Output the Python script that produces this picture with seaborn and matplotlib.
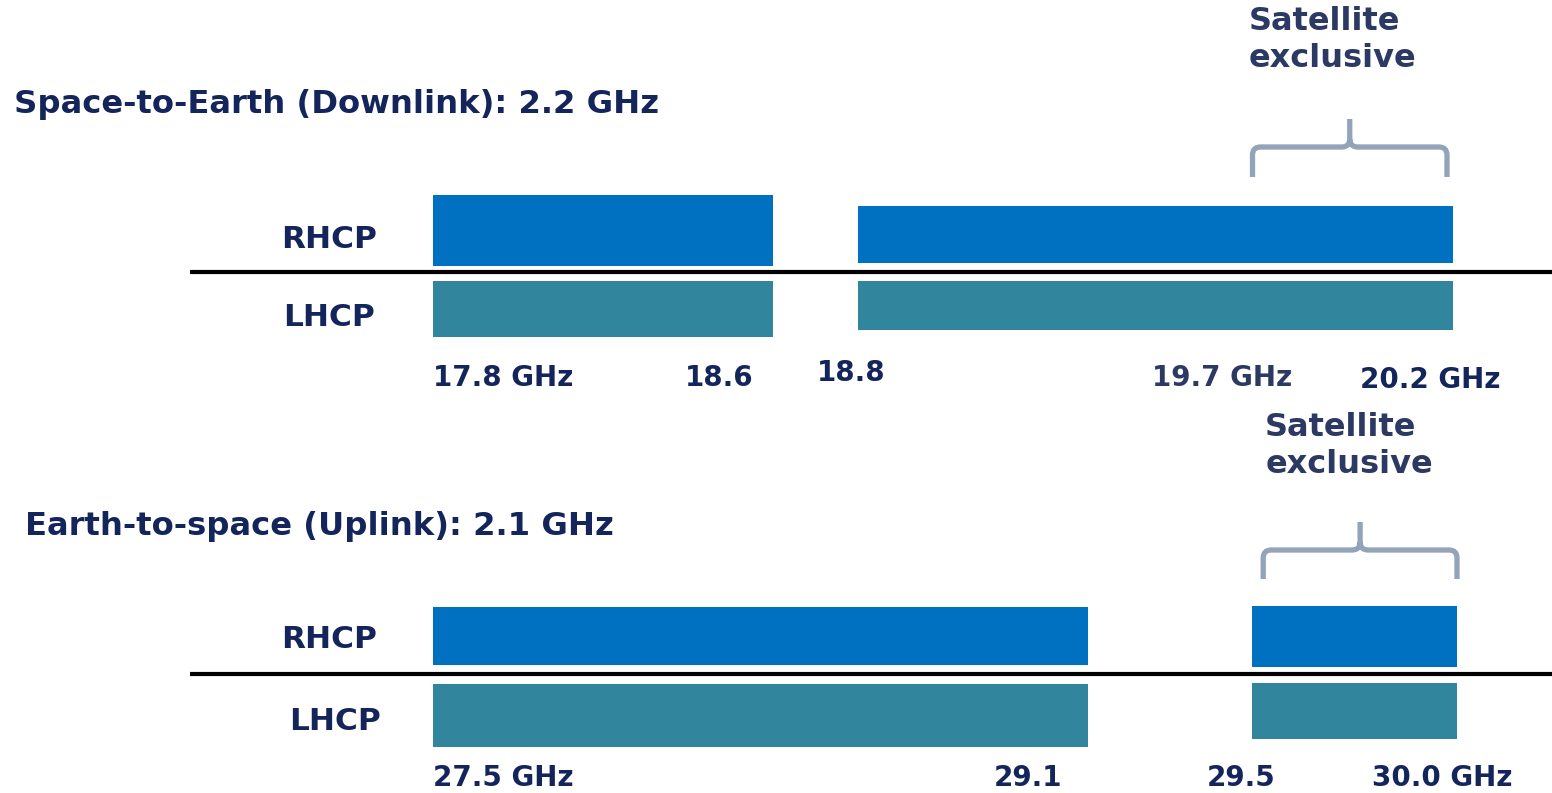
import matplotlib
matplotlib.use("Agg")
import matplotlib.pyplot as plt
import matplotlib.transforms as mtransforms
from matplotlib.path import Path
from matplotlib.patches import PathPatch
import seaborn as sns

# ---- data -------------------------------------------------------------
down_title = "Space-to-Earth (Downlink): 2.2 GHz"
down_start = [17.8, 18.8]          # GHz, band start
down_end = [18.6, 20.2]            # GHz, band end
down_tick_values = [17.8, 18.6, 18.8, 19.7, 20.2]
down_tick_labels = ["17.8 GHz", "18.6", "18.8", "19.7 GHz", "20.2 GHz"]
down_exclusive = (19.7, 20.2)

up_title = "Earth-to-space (Uplink): 2.1 GHz"
up_start = [27.5, 29.5]
up_end = [29.1, 30.0]
up_tick_values = [27.5, 29.1, 29.5, 30.0]
up_tick_labels = ["27.5 GHz", "29.1", "29.5", "30.0 GHz"]
up_exclusive = (29.5, 30.0)

polarisations = ["RHCP", "LHCP"]
exclusive_label = "Satellite\nexclusive"

# ---- style ------------------------------------------------------------
W, H = 1552, 793
C_RHCP = "#0070C0"
C_LHCP = "#31859C"
C_TEXT = "#13255B"
C_SOFT = "#2C3A63"
C_BRACE = "#93A3BA"

sns.set_theme(style="white")
plt.rcParams["font.family"] = ["DejaVu Sans"]

fig = plt.figure(figsize=(W / 100, H / 100), dpi=100)

AX_LEFT_PX, AX_RIGHT_PX = 190, 1552
FIRST_PX = 433                      # pixel column of the first band edge

panels = [
    dict(title=down_title, start=down_start, end=down_end,
         ticks=down_tick_values, labels=down_tick_labels, excl=down_exclusive,
         px_top=0, px_bot=400, base_px=272, last_px=1453,
         title_xy=(14, 104),
         rh_ext=[(6, 77), (9, 66)], lh_ext=[(-65, -9), (-58, -9)],
         row_y=(33, -45), row_x=(329, 329),
         tick_style=[("left", 0, -106), ("right", -20, -106), ("center", -7, -101),
                     ("center", -18, -106, C_SOFT), ("center", -23, -108)],
         brace=(125, 153, 95), brace_dx=(12, -6), excl_text_y=232, excl_dx=8),
    dict(title=up_title, start=up_start, end=up_end,
         ticks=up_tick_values, labels=up_tick_labels, excl=up_exclusive,
         px_top=400, px_bot=793, base_px=674, last_px=1457,
         title_xy=(25, 526),
         rh_ext=[(9, 67), (7, 68)], lh_ext=[(-73, -10), (-65, -9)],
         row_y=(35, -48), row_x=(329, 335),
         tick_style=[("left", 0, -104), ("right", -26, -104), ("center", -11, -104),
                     ("center", -15, -104)],
         brace=(124, 152, 95), brace_dx=(11, 0), excl_text_y=228, excl_dx=13),
]


def draw_brace(ax, x0, x1, y_h, y_tip, y_end, rx, ry, color):
    xm = (x0 + x1) / 2
    verts = [
        (x0, y_end), (x0, y_h - ry),
        (x0, y_h), (x0 + rx, y_h),
        (xm - rx, y_h),
        (xm, y_h), (xm, y_h + ry),
        (xm, y_tip),
        (xm, y_h + ry),
        (xm, y_h), (xm + rx, y_h),
        (x1 - rx, y_h),
        (x1, y_h), (x1, y_h - ry),
        (x1, y_end),
    ]
    codes = [Path.MOVETO, Path.LINETO,
             Path.CURVE3, Path.CURVE3,
             Path.LINETO,
             Path.CURVE3, Path.CURVE3,
             Path.LINETO,
             Path.MOVETO,
             Path.CURVE3, Path.CURVE3,
             Path.LINETO,
             Path.CURVE3, Path.CURVE3,
             Path.LINETO]
    ax.add_patch(PathPatch(Path(verts, codes), fill=False, edgecolor=color,
                           lw=3.8, capstyle="butt", joinstyle="round"))


for p in panels:
    ax = fig.add_axes([AX_LEFT_PX / W, 1 - p["px_bot"] / H,
                       (AX_RIGHT_PX - AX_LEFT_PX) / W,
                       (p["px_bot"] - p["px_top"]) / H])
    # linear frequency scale: first band edge and last band edge pinned
    f0, f1 = min(p["start"]), max(p["end"])
    ppg = (p["last_px"] - FIRST_PX) / (f1 - f0)      # pixels per GHz
    ax.set_xlim(f0 - (FIRST_PX - AX_LEFT_PX) / ppg,
                f0 + (AX_RIGHT_PX - FIRST_PX) / ppg)
    ax.set_ylim(p["base_px"] - p["px_bot"], p["base_px"] - p["px_top"])
    ax.axis("off")

    # band bars
    for s, e, (lo, hi) in zip(p["start"], p["end"], p["rh_ext"]):
        ax.barh(lo, e - s, left=s, height=hi - lo, align="edge",
                color=C_RHCP, linewidth=0)
    for s, e, (lo, hi) in zip(p["start"], p["end"], p["lh_ext"]):
        ax.barh(lo, e - s, left=s, height=hi - lo, align="edge",
                color=C_LHCP, linewidth=0)

    # polarisation divider
    ax.axhline(0, color="black", lw=3.0)

    # row labels
    trans = mtransforms.blended_transform_factory(ax.transAxes, ax.transData)
    for name, ry, rxp in zip(polarisations, p["row_y"], p["row_x"]):
        ax.text((rxp - AX_LEFT_PX) / (AX_RIGHT_PX - AX_LEFT_PX), ry, name,
                transform=trans, ha="center", va="center",
                fontsize=22.5, fontweight="bold", color=C_TEXT)

    # frequency labels
    for val, lab, st in zip(p["ticks"], p["labels"], p["tick_style"]):
        ha, dx, ty = st[0], st[1], st[2]
        col = st[3] if len(st) > 3 else C_TEXT
        ax.annotate(lab, xy=(val, ty), xytext=(dx, 0),
                    textcoords="offset pixels", ha=ha, va="center",
                    fontsize=20, fontweight="bold", color=col)

    # satellite-exclusive brace
    y_h, y_tip, y_end = p["brace"]
    x0, x1 = p["excl"]
    dx0, dx1 = p["brace_dx"]
    draw_brace(ax, x0 + dx0 / ppg, x1 + dx1 / ppg, y_h, y_tip, y_end,
               8 / ppg, 8, C_BRACE)
    ax.annotate(exclusive_label, xy=(x0, p["excl_text_y"]),
                xytext=(p["excl_dx"], 0), textcoords="offset pixels",
                ha="left", va="center", fontsize=23, fontweight="bold",
                color=C_SOFT, linespacing=1.28)

    # panel title
    tx, tyy = p["title_xy"]
    fig.text(tx / W, 1 - tyy / H, p["title"], ha="left", va="center",
             fontsize=23.2, fontweight="bold", color=C_TEXT)

fig.savefig("out.png", dpi=100, facecolor="white")
